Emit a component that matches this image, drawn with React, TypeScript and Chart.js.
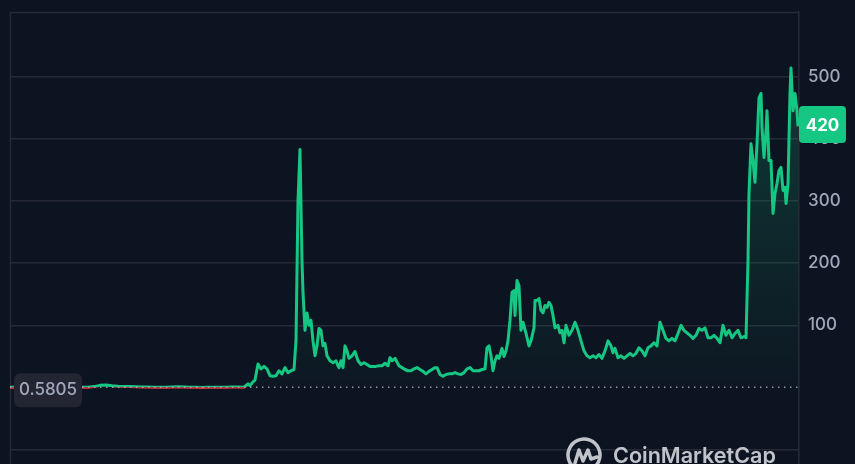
import React, { useEffect, useRef } from "react";
import { Chart, registerables } from "chart.js";

Chart.register(...registerables);

// ---- data ----
const BASE_PRICE = 0.5805;
const LAST_PRICE_LABEL = "420";
const Y_TICKS = [-100, 100, 200, 300, 400, 500];
const Y_LABELED = [100, 200, 300, 400, 500];
const Y_MIN = -123;
const Y_MAX = 604;
const X_MAX = 789;

const flatDays = [
  0, 6, 12, 18, 24, 30, 36, 42, 48, 54,
  60, 66, 72, 78, 84, 90, 96, 102, 108, 114,
  120, 126, 132, 138, 144, 150, 156, 162, 168, 174,
  180, 186, 192, 198, 204, 210, 216, 222, 228, 234,
];
const flatPrices = [
  0.5, 0.4, 0.7, 0.9, 0.6, 0.5, 0.8, 0.6, 0.5, 0.7,
  0.9, 0.6, 0.4, 0.5, 1.5, 3.5, 4.2, 3.0, 2.2, 1.8,
  1.5, 1.2, 1.0, 0.8, 0.5, 0.3, 0.4, 0.9, 1.1, 0.7,
  0.4, 0.3, 0.2, 0.3, 0.5, 0.4, 0.6, 0.9, 0.7, 0.5,
];

const trendDays = [
  238, 240, 243, 245, 248, 251, 254, 257, 260, 263,
  266, 269, 272, 275, 278, 281, 284, 286, 288, 290,
  292, 293, 295, 297, 299, 301, 303, 305, 307, 309,
  311, 313, 315, 317, 320, 323, 326, 328, 329, 331,
  333, 335, 337, 339, 342, 345, 348, 351, 354, 357,
  360, 363, 366, 369, 372, 375, 378, 380, 382, 385,
  389, 392, 395, 398, 401, 404, 407, 410, 413, 416,
  419, 422, 425, 427, 430, 433, 436, 439, 442, 445,
  448, 451, 454, 457, 460, 463, 466, 469, 472, 475,
  477, 479, 481, 483, 485, 487, 489, 492, 494, 496,
  498, 500, 502, 504, 505, 507, 509, 511, 513, 516,
  519, 521, 524, 525, 527, 529, 531, 533, 535, 537,
  539, 541, 543, 545, 548, 550, 552, 554, 556, 559,
  562, 565, 568, 571, 574, 577, 580, 583, 586, 589,
  592, 595, 598, 601, 603, 605, 608, 611, 614, 617,
  620, 623, 626, 629, 632, 635, 638, 641, 644, 647,
  650, 653, 656, 659, 662, 665, 668, 671, 674, 677,
  680, 683, 686, 689, 692, 695, 698, 701, 704, 707,
  710, 713, 716, 719, 722, 725, 728, 731, 734, 736,
  738, 739, 741, 743, 745, 747, 749, 751, 752, 754,
  756, 757, 759, 761, 763, 765, 767, 769, 771, 773,
  775, 776, 778, 780, 781, 783, 785, 787, 788,
];
const trendPrices = [
  6, 3, 9, 12, 38, 30, 34, 30, 19, 18,
  19, 27, 22, 32, 24, 27, 29, 75, 300, 383,
  204, 153, 92, 120, 100, 108, 75, 51, 67, 95,
  92, 67, 71, 51, 43, 40, 43, 35, 32, 43,
  32, 67, 59, 47, 51, 58, 43, 37, 40, 37,
  34, 34, 34, 35, 35, 39, 35, 48, 43, 47,
  35, 32, 29, 27, 27, 30, 32, 29, 26, 22,
  26, 29, 32, 32, 21, 18, 21, 22, 22, 24,
  22, 21, 24, 30, 32, 27, 27, 27, 29, 30,
  64, 67, 51, 27, 43, 51, 47, 63, 50, 59,
  75, 108, 153, 156, 116, 172, 164, 92, 105, 87,
  67, 75, 96, 140, 140, 143, 124, 120, 132, 129,
  137, 132, 116, 96, 100, 88, 92, 72, 100, 84,
  92, 105, 92, 75, 59, 51, 48, 51, 48, 53,
  47, 59, 75, 67, 56, 63, 48, 51, 47, 51,
  55, 51, 55, 64, 59, 51, 64, 67, 72, 67,
  105, 92, 79, 75, 79, 75, 87, 100, 92, 88,
  84, 79, 84, 95, 92, 96, 80, 80, 84, 79,
  72, 100, 84, 92, 80, 87, 92, 80, 82, 80,
  204, 312, 392, 365, 330, 392, 466, 473, 418, 370,
  413, 445, 365, 365, 280, 312, 328, 349, 354, 317,
  322, 296, 328, 473, 514, 445, 473, 445, 420,
];

const BG = "#0d1421";
const GRID = "#262a36";
const GREEN = "#16c784";
const RED = "#ea3943";
const TICK_COLOR = "#a1a7bb";
const FONT = "Inter, 'Noto Sans', sans-serif";

function roundRect(ctx: CanvasRenderingContext2D, x: number, y: number, w: number, h: number, r: number) {
  ctx.beginPath();
  ctx.moveTo(x + r, y);
  ctx.lineTo(x + w - r, y);
  ctx.quadraticCurveTo(x + w, y, x + w, y + r);
  ctx.lineTo(x + w, y + h - r);
  ctx.quadraticCurveTo(x + w, y + h, x + w - r, y + h);
  ctx.lineTo(x + r, y + h);
  ctx.quadraticCurveTo(x, y + h, x, y + h - r);
  ctx.lineTo(x, y + r);
  ctx.quadraticCurveTo(x, y, x + r, y);
  ctx.closePath();
}

const decorPlugin = {
  id: "decor",
  beforeDatasetsDraw(chart: any) {
    const { ctx, chartArea } = chart;
    ctx.save();
    ctx.strokeStyle = GRID;
    ctx.lineWidth = 1.5;
    ctx.beginPath();
    ctx.moveTo(chartArea.left + 0.5, chartArea.top);
    ctx.lineTo(chartArea.left + 0.5, chart.height);
    ctx.moveTo(chartArea.left, chartArea.top + 0.5);
    ctx.lineTo(chartArea.right, chartArea.top + 0.5);
    ctx.stroke();
    ctx.restore();
  },
  beforeDatasetDraw(chart: any, args: any) {
    const { ctx, chartArea, scales } = chart;
    const by = scales.y.getPixelForValue(BASE_PRICE);
    ctx.save();
    ctx.beginPath();
    if (args.index === 0) {
      // red copy: only below the base line
      ctx.rect(chartArea.left, by, chartArea.right - chartArea.left, chartArea.bottom - by);
    } else {
      ctx.rect(chartArea.left, chartArea.top - 5, chartArea.right - chartArea.left, by - chartArea.top + 5);
    }
    ctx.clip();
  },
  afterDatasetDraw(chart: any) {
    chart.ctx.restore();
  },
  afterDatasetsDraw(chart: any) {
    const { ctx, chartArea, scales } = chart;
    const y = scales.y;
    const by = y.getPixelForValue(BASE_PRICE);
    ctx.save();
    // dotted baseline
    ctx.strokeStyle = "rgba(160,166,180,0.9)";
    ctx.lineWidth = 1.5;
    ctx.setLineDash([1.5, 4.5]);
    ctx.beginPath();
    ctx.moveTo(chartArea.left, by);
    ctx.lineTo(chartArea.right, by);
    ctx.stroke();
    ctx.setLineDash([]);

    // base price label
    roundRect(ctx, 14, by - 14, 68, 34, 7);
    ctx.fillStyle = "#232632";
    ctx.fill();
    ctx.fillStyle = TICK_COLOR;
    ctx.font = `500 17px ${FONT}`;
    ctx.textAlign = "center";
    ctx.textBaseline = "middle";
    ctx.fillText(BASE_PRICE.toFixed(4), 48, by + 3);

    // last price label
    const last = trendPrices[trendPrices.length - 1];
    const ly = y.getPixelForValue(last) - 2;
    roundRect(ctx, chartArea.right, ly - 18.5, 47, 37, 4);
    ctx.fillStyle = GREEN;
    ctx.fill();
    ctx.fillStyle = "#ffffff";
    ctx.font = `700 17px ${FONT}`;
    ctx.fillText(LAST_PRICE_LABEL, chartArea.right + 23.5, ly + 1);

    // watermark
    ctx.globalAlpha = 0.85;
    ctx.strokeStyle = "#dfe2e8";
    ctx.fillStyle = "#dfe2e8";
    ctx.lineWidth = 3.5;
    ctx.lineCap = "round";
    ctx.lineJoin = "round";
    const cx = 584, cy = 455, r = 16;
    ctx.beginPath();
    ctx.arc(cx, cy, r, Math.PI * 0.62, Math.PI * 2.3);
    ctx.stroke();
    ctx.beginPath();
    ctx.moveTo(cx - 9, cy + 8);
    ctx.lineTo(cx - 5, cy - 5);
    ctx.lineTo(cx - 1, cy + 6);
    ctx.lineTo(cx + 4, cy - 5);
    ctx.lineTo(cx + 7, cy + 4);
    ctx.lineTo(cx + 13, cy + 2);
    ctx.stroke();
    const text = "CoinMarketCap";
    let size = 24;
    ctx.font = `600 ${size}px ${FONT}`;
    const w = ctx.measureText(text).width;
    size = size * (163 / w);
    ctx.font = `600 ${size}px ${FONT}`;
    ctx.textAlign = "left";
    ctx.textBaseline = "alphabetic";
    ctx.fillText(text, 613, 447 + size * 0.727);
    ctx.restore();
  },
};

export default function App() {
  const ref = useRef<HTMLCanvasElement | null>(null);

  useEffect(() => {
    if (!ref.current) return;
    const days = [...flatDays, ...trendDays];
    const prices = [...flatPrices, ...trendPrices];
    const points = days.map((d, i) => ({ x: d, y: prices[i] }));

    const chart = new Chart(ref.current, {
      type: "line",
      data: {
        datasets: [
          {
            data: points,
            borderColor: RED,
            borderWidth: 3,
            pointRadius: 0,
            tension: 0,
            borderJoinStyle: "round",
            fill: false,
          } as any,
          {
            data: points,
            borderColor: GREEN,
            borderWidth: 3,
            pointRadius: 0,
            tension: 0,
            borderJoinStyle: "round",
            fill: { value: BASE_PRICE } as any,
            backgroundColor: (c: any) => {
              const area = c.chart.chartArea;
              if (!area) return "rgba(22,199,132,0.1)";
              const ys = c.chart.scales.y;
              const g = c.chart.ctx.createLinearGradient(0, ys.getPixelForValue(520), 0, ys.getPixelForValue(BASE_PRICE));
              g.addColorStop(0, "rgba(22,199,132,0.22)");
              g.addColorStop(1, "rgba(22,199,132,0.02)");
              return g;
            },
          } as any,
        ],
      },
      options: {
        animation: false,
        responsive: true,
        maintainAspectRatio: false,
        layout: { padding: { left: 10, top: 12, right: 0, bottom: 0 } },
        plugins: {
          legend: { display: false },
          tooltip: { enabled: false },
          filler: { propagate: false },
        },
        scales: {
          x: {
            type: "linear",
            min: 0,
            max: X_MAX,
            display: false,
          },
          y: {
            position: "right",
            min: Y_MIN,
            max: Y_MAX,
            afterBuildTicks: (scale: any) => {
              scale.ticks = Y_TICKS.map((v) => ({ value: v }));
            },
            afterFit: (scale: any) => {
              scale.width = 56;
              scale.paddingTop = 0;
              scale.paddingBottom = 0;
            },
            grid: { color: GRID, lineWidth: 1.5, drawTicks: false },
            border: { display: true, color: GRID, width: 1.5 },
            ticks: {
              padding: 9,
              color: TICK_COLOR,
              font: { family: FONT, size: 17, weight: 500 as any },
              callback: (v: any) => (Y_LABELED.includes(Number(v)) ? String(v) : ""),
            },
          },
        },
      },
      plugins: [decorPlugin],
    });
    return () => chart.destroy();
  }, []);

  return (
    <div
      style={{
        position: "fixed",
        left: 0,
        top: 0,
        width: 855,
        height: 464,
        background: BG,
      }}
    >
      <canvas ref={ref} />
    </div>
  );
}
